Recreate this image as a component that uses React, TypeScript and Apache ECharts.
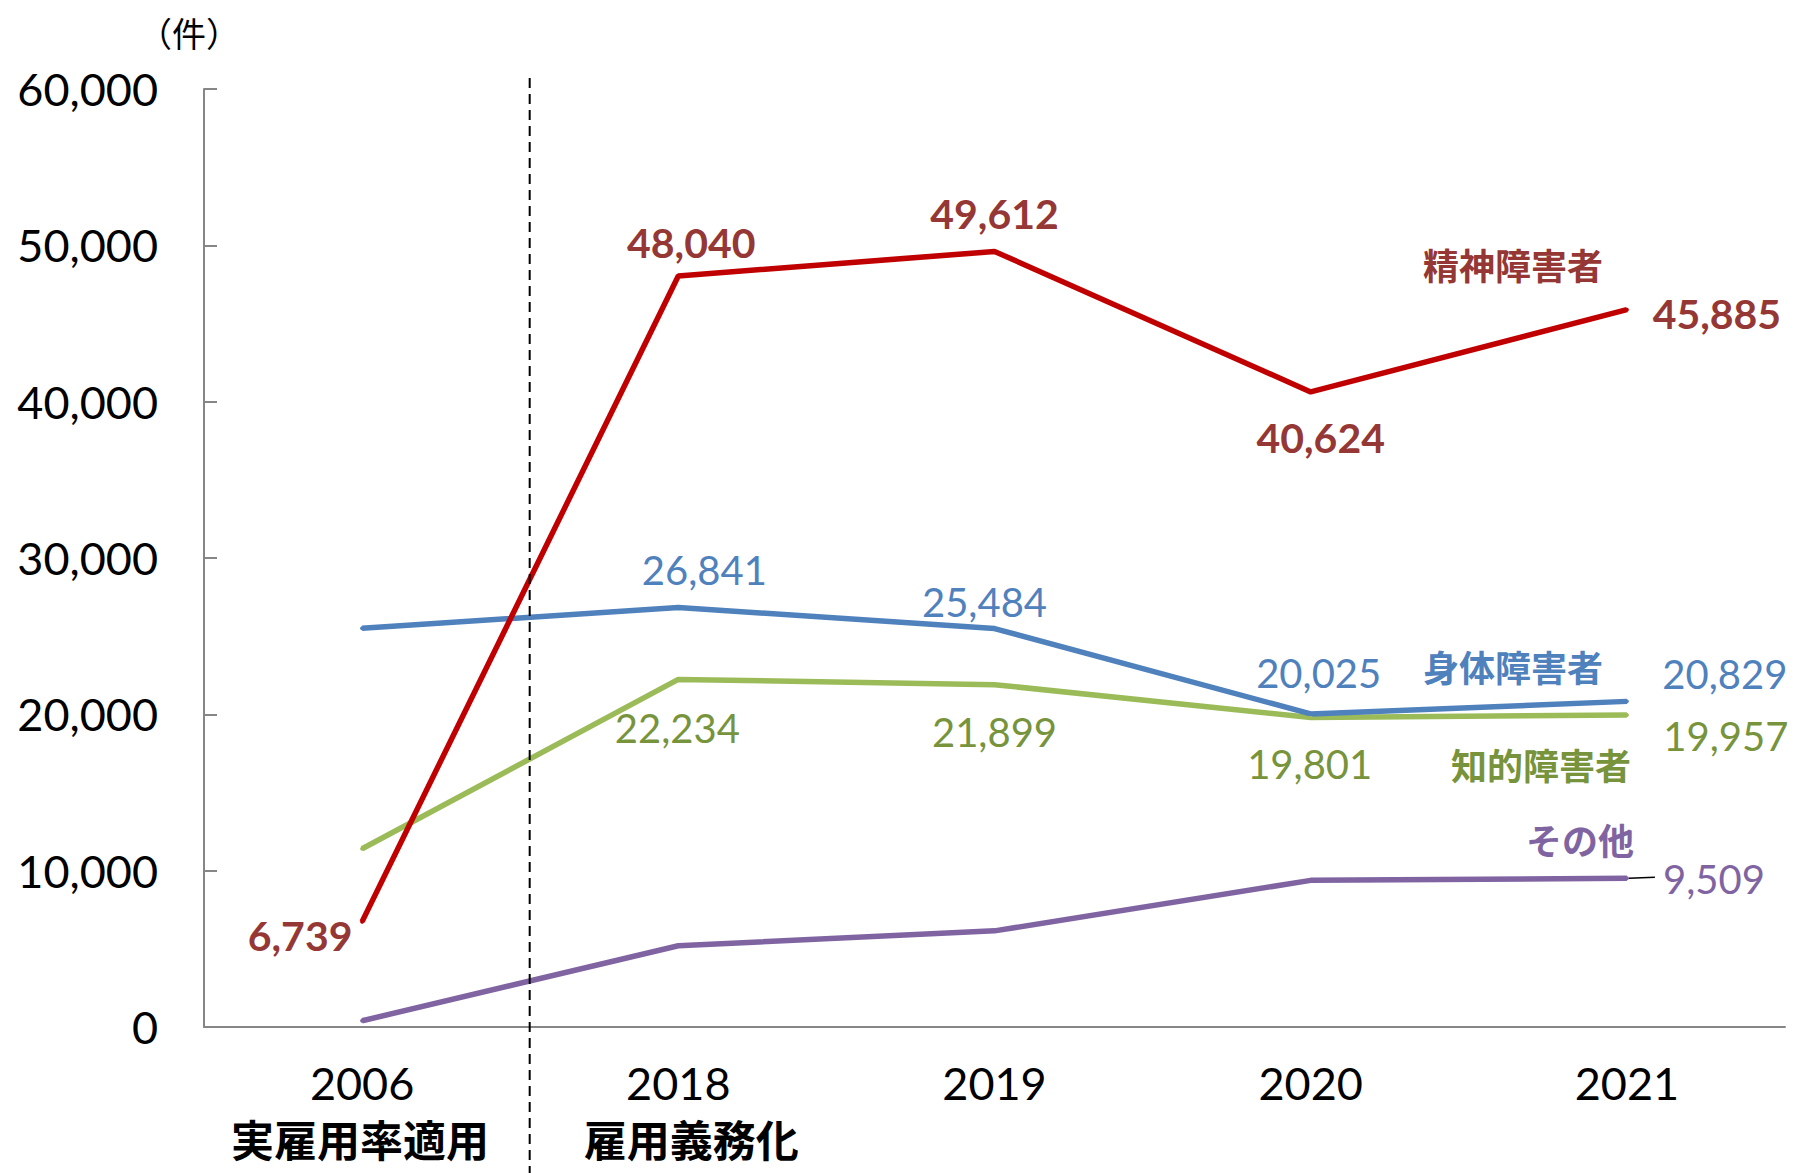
import React, { useEffect, useRef } from "react";
import * as echarts from "echarts";

const categories = ["2006", "2018", "2019", "2020", "2021"];
const categoryNotes = ["実雇用率適用", "雇用義務化", "", "", ""];
const seriesNames = ["精神障害者", "身体障害者", "知的障害者", "その他"];
const mental = [6739, 48040, 49612, 40624, 45885];
const physical = [25500, 26841, 25484, 20025, 20829];
const intellectual = [11400, 22234, 21899, 19801, 19957];
const other = [400, 5200, 6150, 9380, 9509];
const yUnit = "（件）";

const NUM_FONT = "Lato, 'Noto Sans', sans-serif";
const CJK_FONT = "'Noto Sans CJK JP', 'Noto Sans', sans-serif";

type Cfg = {
  name: string;
  values: number[];
  lineColor: string;
  labelColor: string;
  bold: boolean;
  shown: boolean[];
  offsets: number[][];
  nameOffset: number[];
};

const configs: Cfg[] = [
  {
    name: seriesNames[3],
    values: other,
    lineColor: "#8064A2",
    labelColor: "#8064A2",
    bold: false,
    shown: [false, false, false, false, true],
    offsets: [[0, 0], [0, 0], [0, 0], [0, 0], [87, 1]],
    nameOffset: [-47, -39],
  },
  {
    name: seriesNames[2],
    values: intellectual,
    lineColor: "#9BBB59",
    labelColor: "#77933C",
    bold: false,
    shown: [false, true, true, true, true],
    offsets: [[0, 0], [-1, 49], [0, 47], [-1, 47], [99, 21]],
    nameOffset: [-86, 49],
  },
  {
    name: seriesNames[1],
    values: physical,
    lineColor: "#4F81BD",
    labelColor: "#4F81BD",
    bold: false,
    shown: [false, true, true, true, true],
    offsets: [[0, 0], [26, -37], [-10, -27], [8, -41], [98, -27]],
    nameOffset: [-114, -35],
  },
  {
    name: seriesNames[0],
    values: mental,
    lineColor: "#C00000",
    labelColor: "#953735",
    bold: true,
    shown: [true, true, true, true, true],
    offsets: [[-62, 14], [13, -33], [0, -38], [10, 46], [90, 4]],
    nameOffset: [-114, -46],
  },
];

const noteShiftX = [-2, 13, 0, 0, 0];

const fmt = (v: number) => v.toLocaleString("en-US");

export default function App() {
  const ref = useRef<HTMLDivElement>(null);

  useEffect(() => {
    if (!ref.current) return;
    const chart = echarts.init(ref.current, undefined, { renderer: "svg" });

    const series: any[] = configs.map((c) => ({
      name: c.name,
      type: "line",
      symbol: "circle",
      symbolSize: 4,
      showSymbol: true,
      lineStyle: { color: c.lineColor, width: 5.5 },
      itemStyle: { color: c.lineColor },
      data: c.values.map((v, i) => ({
        value: v,
        label: {
          show: c.shown[i],
          position: "inside",
          offset: c.offsets[i],
          formatter: (p: any) => fmt(p.value),
          color: c.labelColor,
          fontFamily: NUM_FONT,
          fontSize: c.bold ? 41 : 40,
          fontWeight: c.bold ? "bold" : "normal",
        },
      })),
      markPoint: {
        symbol: "circle",
        symbolSize: 1,
        itemStyle: { color: "rgba(0,0,0,0)" },
        data: [
          {
            coord: [categories[categories.length - 1], c.values[c.values.length - 1]],
            value: c.name,
          },
        ],
        label: {
          show: true,
          position: "inside",
          offset: c.nameOffset,
          formatter: c.name,
          color: c.labelColor,
          fontFamily: CJK_FONT,
          fontWeight: "bold",
          fontSize: 36,
        },
      },
      z: 3,
    }));

    const option: any = {
      animation: false,
      backgroundColor: "#ffffff",
      grid: { left: 204, right: 10, top: 89, bottom: 146, containLabel: false },
      xAxis: {
        type: "category",
        data: categories,
        boundaryGap: true,
        axisLine: { show: true, lineStyle: { color: "#868686", width: 2 } },
        axisTick: { show: false },
        axisLabel: {
          margin: 34,
          fontFamily: NUM_FONT,
          fontSize: 45,
          color: "#000",
          lineHeight: 44,
        },
      },
      yAxis: {
        type: "value",
        min: 0,
        max: 60000,
        interval: 10000,
        name: yUnit,
        nameLocation: "end",
        nameGap: 40,
        nameTextStyle: {
          fontFamily: CJK_FONT,
          fontSize: 34,
          color: "#000",
          padding: [0, 30, 0, 0],
        },
        axisLine: { show: true, lineStyle: { color: "#868686", width: 2 } },
        axisTick: { show: true, inside: true, length: 13, lineStyle: { color: "#868686", width: 2 } },
        splitLine: { show: false },
        axisLabel: {
          margin: 46,
          formatter: (v: number) => fmt(v),
          fontFamily: NUM_FONT,
          fontSize: 45,
          color: "#000",
        },
      },
      series,
    };

    chart.setOption(option);

    const xs = categories.map((c) => chart.convertToPixel({ xAxisIndex: 0 }, c) as number);
    const divX = xs[0] + (xs[1] - xs[0]) * 0.53;
    const lastIdx = categories.length - 1;
    const endPt = chart.convertToPixel({ xAxisIndex: 0, yAxisIndex: 0 } as any, [
      categories[lastIdx],
      other[lastIdx],
    ]) as number[];

    const noteTexts = categoryNotes
      .map((t, i) =>
        t
          ? {
              type: "text",
              x: xs[i] + noteShiftX[i],
              y: 1138,
              style: {
                text: t,
                fill: "#000",
                font: `bold 43px ${CJK_FONT}`,
                align: "center",
                verticalAlign: "middle",
              },
            }
          : null
      )
      .filter(Boolean);

    chart.setOption({
      graphic: [
        {
          type: "line",
          shape: { x1: divX, y1: 78, x2: divX, y2: 1173 },
          style: { stroke: "#000", lineWidth: 2, lineDash: [10, 6] },
          z: 10,
        },
        {
          type: "line",
          shape: { x1: endPt[0] + 2, y1: endPt[1], x2: endPt[0] + 28, y2: endPt[1] - 1 },
          style: { stroke: "#000", lineWidth: 1.5 },
          z: 10,
        },
        ...noteTexts,
      ],
    });

    return () => chart.dispose();
  }, []);

  return (
    <div
      ref={ref}
      style={{ position: "fixed", left: 0, top: 0, width: 1795, height: 1173, background: "#fff" }}
    />
  );
}
